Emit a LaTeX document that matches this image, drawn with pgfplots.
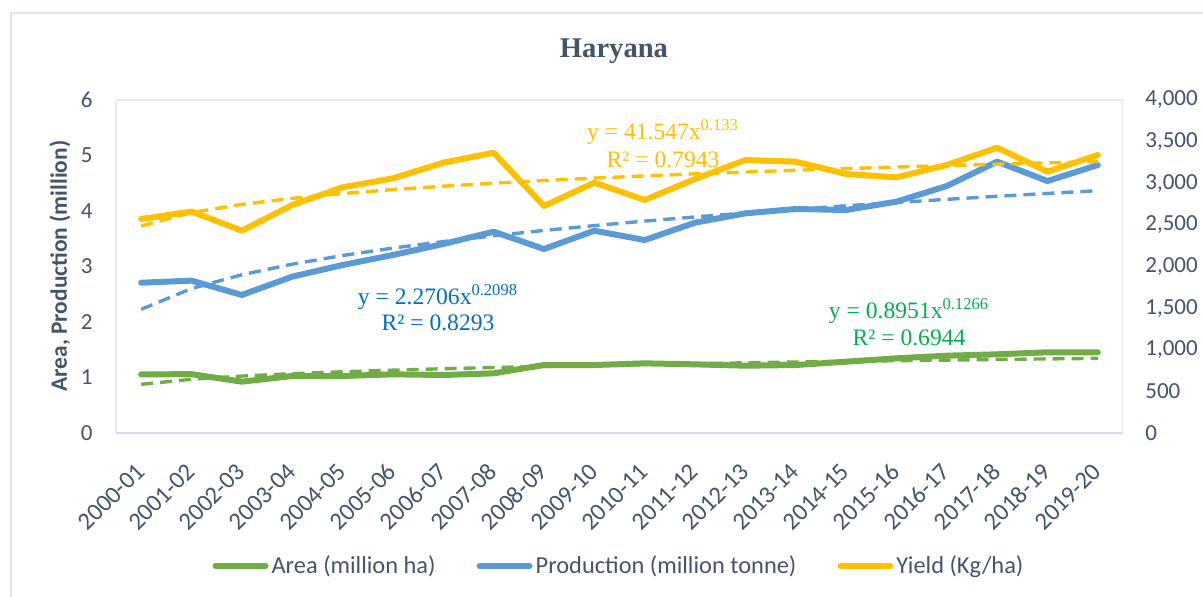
\documentclass[border=0pt]{standalone}
\usepackage{fontspec}
\setmainfont{Carlito}
\newfontfamily\tnr{Liberation Serif}
\usepackage{pgfplots}
\usepackage{pgfplotstable}
\pgfplotsset{compat=1.18}
\definecolor{areaC}{HTML}{70AD47}
\definecolor{prodC}{HTML}{5B9BD5}
\definecolor{yieldC}{HTML}{FFC000}
\definecolor{txtC}{HTML}{44546A}
\definecolor{eqY}{HTML}{FFC000}
\definecolor{eqB}{HTML}{0070C0}
\definecolor{eqG}{HTML}{00B050}
\definecolor{frameC}{HTML}{E6E9F1}
\definecolor{bottomC}{HTML}{D9DCE4}
\definecolor{chartB}{HTML}{E1E4EB}

\pgfplotstableread{
i area prod yield tarea tprod tyield
0 1.057 2.708 2571 0.877 2.228 2487
1 1.060 2.745 2660 0.968 2.603 2648
2 0.925 2.487 2430 1.026 2.852 2746
3 1.027 2.817 2739 1.069 3.042 2819
4 1.027 3.027 2951 1.103 3.198 2876
5 1.057 3.207 3059 1.132 3.332 2924
6 1.045 3.405 3247 1.158 3.449 2965
7 1.075 3.628 3367 1.180 3.554 3001
8 1.225 3.315 2727 1.200 3.650 3033
9 1.225 3.645 3007 1.218 3.737 3062
10 1.255 3.477 2799 1.235 3.818 3088
11 1.237 3.790 3051 1.250 3.893 3113
12 1.213 3.958 3279 1.265 3.964 3135
13 1.225 4.036 3259 1.278 4.030 3156
14 1.285 4.018 3111 1.291 4.094 3176
15 1.345 4.168 3071 1.303 4.153 3195
16 1.393 4.450 3219 1.314 4.210 3212
17 1.418 4.889 3427 1.325 4.265 3229
18 1.454 4.540 3139 1.335 4.317 3245
19 1.454 4.829 3339 1.345 4.366 3259
}\datatable

\pgfplotsset{
  commonax/.style={
    at={(58pt,81.5pt)}, anchor=south west,
    width=503.5pt, height=166.5pt, scale only axis,
    xmin=-0.5, xmax=19.5,
    tick style={draw=none},
    scaled y ticks=false,
    /pgf/number format/.cd, 1000 sep={,}, assume math mode=true, /pgfplots/.cd,
    ticklabel style={font=\fontsize{11.5}{13}\selectfont, text=txtC},
  },
  solidline/.style={line width=3pt, line cap=round, line join=round},
  trendline/.style={line width=1.7pt, dash pattern=on 6pt off 3.5pt},
}

\begin{document}
\begin{tikzpicture}[x=1pt,y=1pt]
\useasboundingbox (0,0) rectangle (601.5,298);
\fill[white] (0,0) rectangle (601.5,298);
\draw[chartB, line width=1pt] (5.5,-5) -- (5.5,291.5) -- (610,291.5);

\begin{axis}[commonax,
  ymin=0, ymax=6, ytick={0,1,...,6},
  xtick={0,1,...,19},
  xticklabels={2000-01,2001-02,2002-03,2003-04,2004-05,2005-06,2006-07,2007-08,2008-09,2009-10,2010-11,2011-12,2012-13,2013-14,2014-15,2015-16,2016-17,2017-18,2018-19,2019-20},
  xticklabel style={font=\fontsize{12.3}{14}\selectfont, inner sep=0pt, xshift=2.5pt, yshift=-20pt, rotate=45, anchor=base east},
  yticklabel style={anchor=east, inner sep=0pt, xshift=-11.5pt},
  axis line style={draw=frameC, line width=0.8pt},
  axis y line*=left,
]
\draw[frameC, line width=0.8pt] (rel axis cs:0,1) -- (rel axis cs:1,1) -- (rel axis cs:1,0);
\draw[bottomC, line width=1pt] (rel axis cs:0,0) -- (rel axis cs:1,0);
\addplot[areaC, solidline] table[x=i, y=area] {\datatable};
\addplot[areaC, trendline] table[x=i, y=tarea] {\datatable};
\addplot[prodC, solidline] table[x=i, y=prod] {\datatable};
\addplot[prodC, trendline] table[x=i, y=tprod] {\datatable};
\end{axis}

\begin{axis}[commonax,
  ymin=0, ymax=4000, ytick={0,500,...,4000},
  axis y line*=right, axis x line=none,
  y axis line style={draw=none},
  yticklabel style={anchor=west, inner sep=0pt, xshift=11pt},
  legend columns=3,
  legend style={at={(axis description cs:0.5,-0.3994)}, anchor=center,
    draw=none, fill=none,
    /tikz/every even column/.append style={column sep=19pt},
    nodes={inner sep=1.5pt, font=\fontsize{12.2}{14}\selectfont, text=txtC}},
  legend image code/.code={\draw[#1, line width=3pt, line cap=round] (0pt,0pt) -- (25pt,0pt);},
]
\addlegendimage{areaC}
\addlegendentry{Area (million ha)}
\addlegendimage{prodC}
\addlegendentry{Production (million tonne)}
\addplot[yieldC, solidline] table[x=i, y=yield] {\datatable};
\addlegendentry{Yield (Kg/ha)}
\addplot[yieldC, trendline, forget plot] table[x=i, y=tyield] {\datatable};
\end{axis}

\node[font=\tnr\bfseries\fontsize{14.3}{16}\selectfont, text=txtC] at (307,272.5) {Haryana};
\node[rotate=90, font=\bfseries\fontsize{11.7}{13}\selectfont, text=txtC] at (30,165) {Area, Production (million)};
\node[align=center, font=\tnr\fontsize{11.8}{14}\selectfont, text=eqY] at (331.5,226) {y = 41.547x\textsuperscript{0.133}\\R² = 0.7943};
\node[align=center, font=\tnr\fontsize{11.8}{13.2}\selectfont, text=eqB] at (219,144) {y = 2.2706x\textsuperscript{0.2098}\\R² = 0.8293};
\node[align=center, font=\tnr\fontsize{11.8}{13.5}\selectfont, text=eqG] at (454.5,137) {y = 0.8951x\textsuperscript{0.1266}\\R² = 0.6944};
\end{tikzpicture}
\end{document}
